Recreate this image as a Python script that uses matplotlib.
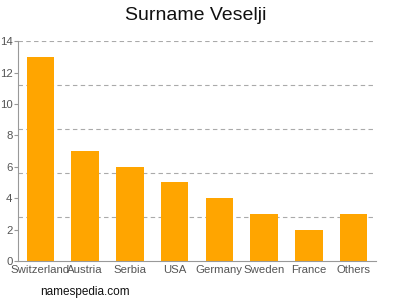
import matplotlib.pyplot as plt
import numpy as np

# Chart data
countries = ['Switzerland', 'Austria', 'Serbia', 'USA', 'Germany', 'Sweden', 'France', 'Others']
counts = [13, 7, 6, 5, 4, 3, 2, 3]
y_ticks = [0, 2, 4, 6, 8, 10, 12, 14]

plt.rcParams['font.family'] = ['Liberation Sans', 'DejaVu Sans']

fig = plt.figure(figsize=(4, 3), dpi=100)
ax = fig.add_axes([0.045, 0.13, 0.895, 0.733])

x = np.arange(len(countries))
ax.bar(x, counts, width=0.62, color='#ffa500', zorder=2)

# dashed grid, five divisions of the axis
for g in np.linspace(0, 14, 6)[1:]:
    ax.axhline(g, color='#aaaaaa', linestyle=(0, (4, 3)), linewidth=0.8, zorder=1)

ax.set_xlim(-0.5, len(countries) - 0.5)
ax.set_ylim(0, 14)
ax.set_xticks(x)
ax.set_xticklabels(countries)
ax.set_yticks(y_ticks)

for side in ['top', 'right']:
    ax.spines[side].set_visible(False)
for side in ['left', 'bottom']:
    ax.spines[side].set_color('#999999')
    ax.spines[side].set_linewidth(0.8)

ax.tick_params(axis='both', colors='#999999', labelcolor='#555555', labelsize=8.2, width=0.8)
ax.tick_params(axis='y', length=3, pad=1)
ax.tick_params(axis='x', length=0, pad=3)

fig.text(0.49, 0.95, 'Surname Veselji', ha='center', va='center', fontsize=14, color='#111111')
fig.text(0.1, 0.027, 'namespedia.com', ha='left', va='center', fontsize=8.5, color='#111111')

fig.savefig('out.png', dpi=100)
